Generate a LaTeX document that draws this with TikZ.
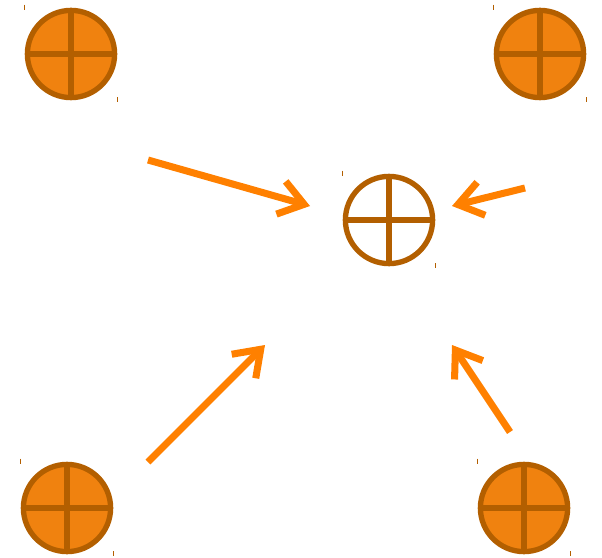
\documentclass[tikz,border=0pt]{standalone}
\usepackage{tikz}
\usetikzlibrary{arrows.meta}
\definecolor{fillorange}{HTML}{F0820F}
\definecolor{rimbrown}{HTML}{B35F00}
\definecolor{arroworange}{HTML}{FF8000}

\begin{document}
\begin{tikzpicture}[x=0.025cm,y=-0.025cm,
  crossnode/.style={circle,draw=rimbrown,line width=3.8pt,minimum size=2.18cm,inner sep=0pt,
    path picture={\draw[rimbrown,line width=3.8pt]
      (path picture bounding box.north) -- (path picture bounding box.south)
      (path picture bounding box.west) -- (path picture bounding box.east);}},
  cornertick/.style={rimbrown,line width=0.7pt},
  flow/.style={arroworange,line width=5pt,-{Straight Barb[length=6mm,width=8.5mm]}}]
  \useasboundingbox (0,0) rectangle (602,557);
  % sources in the corners, target in the middle
  \node[crossnode,fill=fillorange] (nw) at (71,54) {};
  \node[crossnode,fill=fillorange] (ne) at (540,54) {};
  \node[crossnode,fill=fillorange] (sw) at (67,508) {};
  \node[crossnode,fill=fillorange] (se) at (524,508) {};
  \node[crossnode] (mid) at (389,220) {};
  \foreach \n in {nw,ne,sw,se,mid} {
    \draw[cornertick] (\n.west |- \n.north) ++(0,-3) -- ++(0,5);
    \draw[cornertick] (\n.east |- \n.south) ++(0,-3) -- ++(0,5);
  }
  % loose ends of the arrows
  \coordinate (a1) at (148,160);
  \coordinate (b1) at (310,206);
  \coordinate (a2) at (525,188);
  \coordinate (b2) at (452,206);
  \coordinate (a3) at (148,462);
  \coordinate (b3) at (265,345);
  \coordinate (a4) at (510,432);
  \coordinate (b4) at (452,345);
  \draw[flow] (a1) -- (b1);
  \draw[flow] (a2) -- (b2);
  \draw[flow] (a3) -- (b3);
  \draw[flow] (a4) -- (b4);
\end{tikzpicture}
\end{document}
